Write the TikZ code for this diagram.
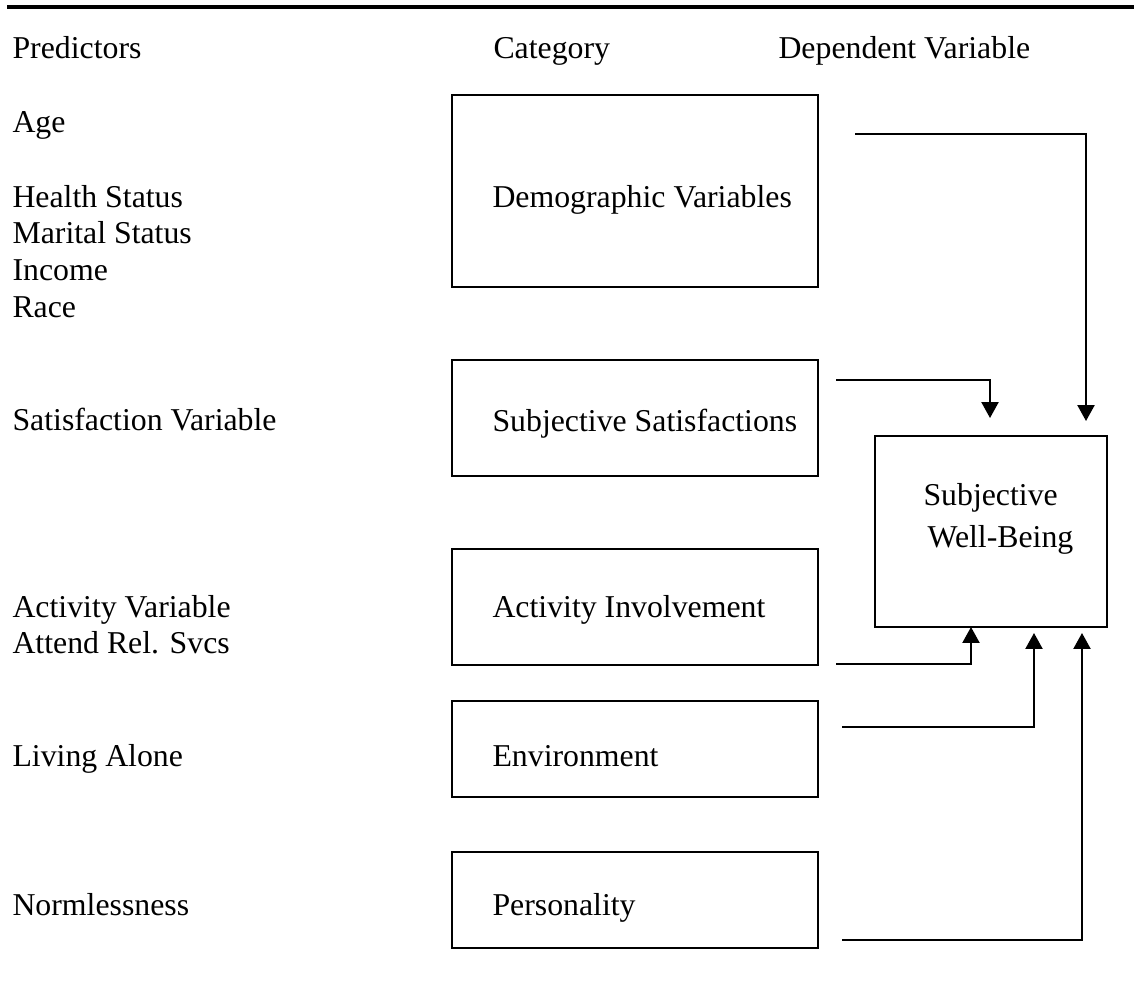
\documentclass[tikz,border=0pt]{standalone}
\usepackage{fontspec}
\setmainfont{Liberation Serif}
\usetikzlibrary{arrows.meta}
\begin{document}
\begin{tikzpicture}[x=0.3774pt,y=-0.3774pt,
  txt/.style={anchor=base west,inner sep=0pt,font=\fontsize{12pt}{13.8pt}\selectfont},
  catbox/.style={draw,line width=0.8pt,inner sep=0pt},
  link/.style={line width=0.8pt,-{Triangle[width=6.4pt,length=6pt]}},
  rule/.style={line width=1.3pt}]
\useasboundingbox (0,0) rectangle (1134,995);
\coordinate (rl) at (7,7);
\coordinate (rr) at (1134,7);
\draw[rule] (rl) -- (rr);
% headers
\node[txt] (hpred) at (12,58) {Predictors};
\node[txt] (hcat) at (493,58) {Category};
\node[txt] (hdep) at (778,58) {Dependent Variable};
% predictors
\node[txt] (age) at (12,132) {Age};
\node[txt] (health) at (12,207) {Health Status};
\node[txt] (marital) at (12,243) {Marital Status};
\node[txt] (income) at (12,280) {Income};
\node[txt] (race) at (12,317) {Race};
\node[txt] (satv) at (12,430) {Satisfaction Variable};
\node[txt] (actv) at (12,617) {Activity Variable};
\node[txt] (attend) at (12,653) {Attend Rel. Svcs};
\node[txt] (living) at (12,766) {Living Alone};
\node[txt] (norm) at (12,915) {Normlessness};
% category boxes
\draw[catbox] (452,95) rectangle (818,287);
\draw[catbox] (452,360) rectangle (818,476);
\draw[catbox] (452,549) rectangle (818,665);
\draw[catbox] (452,701) rectangle (818,797);
\draw[catbox] (452,852) rectangle (818,948);
\node[txt] (demo) at (492,207) {Demographic Variables};
\node[txt] (subsat) at (492,431) {Subjective Satisfactions};
\node[txt] (actinv) at (492,617) {Activity Involvement};
\node[txt] (env) at (492,766) {Environment};
\node[txt] (pers) at (492,915) {Personality};
% dependent box
\draw[catbox] (875,436) rectangle (1107,627);
\node[txt] (swb1) at (923,505) {Subjective};
\node[txt] (swb2) at (927,547) {Well-Being};
% connectors
\coordinate (d0) at (855,134);
\coordinate (d1) at (1086,134);
\coordinate (d2) at (1086,421);
\draw[link] (d0) -- (d1) -- (d2);
\coordinate (s0) at (836,380);
\coordinate (s1) at (990,380);
\coordinate (s2) at (990,418);
\draw[link] (s0) -- (s1) -- (s2);
\coordinate (a0) at (836,664);
\coordinate (a1) at (971,664);
\coordinate (a2) at (971,627);
\draw[link] (a0) -- (a1) -- (a2);
\coordinate (e0) at (842,727);
\coordinate (e1) at (1034,727);
\coordinate (e2) at (1034,633);
\draw[link] (e0) -- (e1) -- (e2);
\coordinate (p0) at (842,940);
\coordinate (p1) at (1082,940);
\coordinate (p2) at (1082,633);
\draw[link] (p0) -- (p1) -- (p2);
\end{tikzpicture}
\end{document}
